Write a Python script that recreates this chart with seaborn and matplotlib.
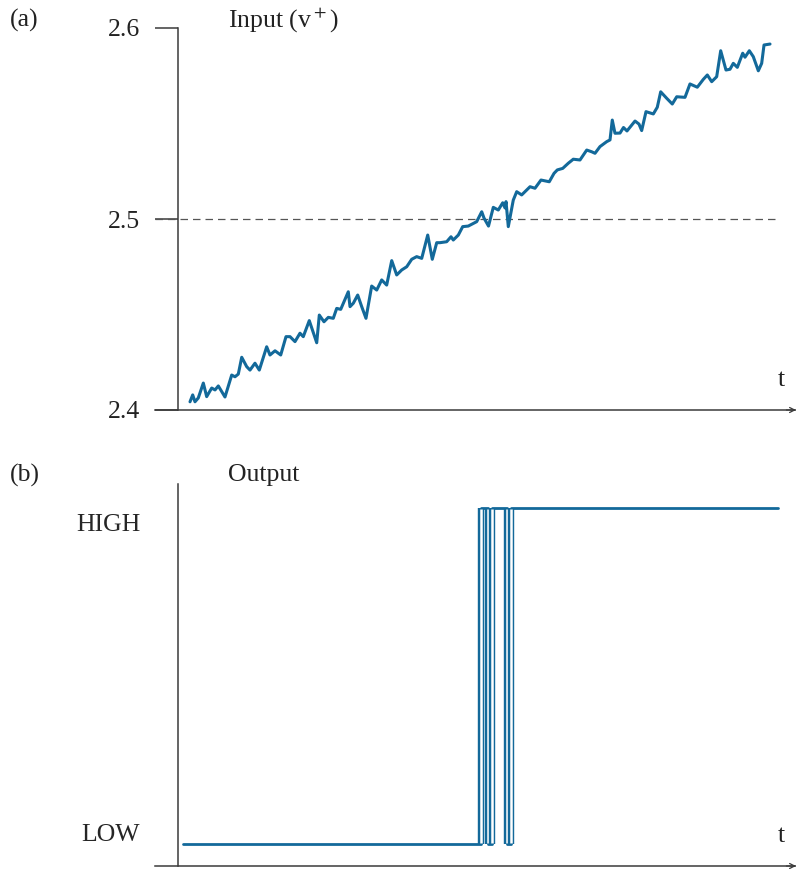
import matplotlib
matplotlib.use("Agg")
import matplotlib.pyplot as plt
import seaborn as sns

# Input signal v+
t_in = [2.0, 2.45, 2.83, 3.38, 4.22, 4.78, 5.62, 6.17, 6.72, 7.83, 8.95, 9.5, 10.05, 10.62,
        11.45, 12.0, 12.83, 13.55, 14.78, 15.33, 16.17, 17.12, 18.0, 18.67, 19.5, 20.33,
        20.88, 21.88, 23.12, 23.55, 24.33, 25.05, 25.88, 26.45, 27.12, 28.38, 28.67, 29.22,
        29.95, 30.62, 31.33, 32.28, 33.12, 33.95, 34.78, 35.62, 36.45, 37.28, 38.12, 38.95,
        39.78, 40.62, 41.62, 42.38, 43.12, 43.67, 44.78, 45.5, 45.88, 46.72, 47.45, 48.38,
        49.78, 50.62, 51.0, 51.75, 52.55, 53.38, 54.12, 54.5, 54.67, 55.05, 55.88, 56.45,
        57.28, 58.67, 59.5, 60.5, 61.88, 62.67, 63.22, 64.12, 65.05, 65.88, 67.0, 68.12,
        68.95, 69.5, 70.33, 71.45, 72.0, 72.38, 72.83, 73.67, 74.25, 74.83, 76.17, 76.83,
        77.28, 78.0, 79.22, 79.88, 80.45, 81.45, 82.38, 83.12, 84.5, 85.33, 86.55, 87.55,
        88.22, 88.95, 89.78, 90.45, 91.33, 92.0, 92.55, 93.22, 94.12, 94.5, 95.22, 95.88,
        96.72, 97.28, 97.67, 98.67]
v_in = [2.4043, 2.4079, 2.4043, 2.4063, 2.4141, 2.4070, 2.4115, 2.4105, 2.4126, 2.4068,
        2.4183, 2.4174, 2.4188, 2.4276, 2.4227, 2.4209, 2.4245, 2.4209, 2.4331, 2.4288,
        2.4310, 2.4288, 2.4384, 2.4384, 2.4358, 2.4402, 2.4384, 2.4468, 2.4352, 2.4497,
        2.4462, 2.4485, 2.4480, 2.4532, 2.4527, 2.4619, 2.4541, 2.4559, 2.4602, 2.4541,
        2.4480, 2.4649, 2.4628, 2.4681, 2.4654, 2.4782, 2.4707, 2.4733, 2.4750, 2.4789,
        2.4803, 2.4794, 2.4916, 2.4789, 2.4876, 2.4876, 2.4881, 2.4907, 2.4890, 2.4916,
        2.4960, 2.4963, 2.4986, 2.5038, 2.5005, 2.4963, 2.5061, 2.5047, 2.5085, 2.5058,
        2.5091, 2.4960, 2.5099, 2.5143, 2.5126, 2.5169, 2.5161, 2.5204, 2.5195, 2.5239,
        2.5257, 2.5265, 2.5292, 2.5313, 2.5309, 2.5361, 2.5352, 2.5344, 2.5379, 2.5405,
        2.5414, 2.5518, 2.5449, 2.5450, 2.5479, 2.5461, 2.5513, 2.5497, 2.5463, 2.5562,
        2.5550, 2.5585, 2.5666, 2.5632, 2.5602, 2.5640, 2.5637, 2.5707, 2.5690, 2.5731,
        2.5754, 2.5719, 2.5745, 2.5881, 2.5780, 2.5784, 2.5815, 2.5794, 2.5868, 2.5847,
        2.5881, 2.5850, 2.5776, 2.5815, 2.5911, 2.5916]

threshold = 2.5
yticks_in = [2.4, 2.5, 2.6]
ytick_labels = ["2.4", "2.5", "2.6"]

# Comparator output (0 = LOW, 1 = HIGH), switching times
t_out = [0.8, 50.5, 51.6, 52.4, 54.85, 55.55, 100.0]
level_out = [0, 1, 0, 1, 0, 1, 1]

blue = "#13699a"
axis_col = "#3a3a3a"

sns.set_theme(style="white")
plt.rcParams["font.family"] = ["Liberation Serif", "DejaVu Serif"]
plt.rcParams["mathtext.fontset"] = "stix"

fig = plt.figure(figsize=(7.96, 8.69), dpi=100)
x_lo, x_hi = -23 / 6, 618 / 6
fs = 18.5

# ---- panel (a)
ax1 = fig.add_axes([155 / 796, 1 - 410 / 869, 641 / 796, 382 / 869])
ax1.axhline(threshold, xmin=0, xmax=(780 - 155) / 641, color="#555555", lw=0.9,
            ls=(0, (6, 4)))
sns.lineplot(x=t_in, y=v_in, ax=ax1, color=blue, lw=2.2, estimator=None, sort=False)
ax1.set_xlim(x_lo, x_hi)
ax1.set_ylim(2.4, 2.6)
ax1.set_yticks(yticks_in)
ax1.set_yticklabels(ytick_labels)
ax1.set_xticks([])

# ---- panel (b)
ax2 = fig.add_axes([155 / 796, 1 - 866 / 869, 641 / 796, 382 / 869])
sns.lineplot(x=t_out, y=level_out, ax=ax2, color=blue, lw=2.0, estimator=None,
             sort=False, drawstyle="steps-post")
for tt in t_out[1:-1]:
    ax2.vlines(tt, 0, 1, color=blue, lw=4.6)
    ax2.vlines(tt, 0.004, 0.996, color="white", lw=1.8)
ax2.set_xlim(x_lo, x_hi)
ax2.set_ylim(-22 / 336, 1 + 24 / 336)
ax2.set_xticks([])
ax2.set_yticks([])
ax2.text(-6.3, 1 - 17 / 336, "HIGH", ha="right", va="center", fontsize=fs)
ax2.text(-6.3, 9 / 336, "LOW", ha="right", va="center", fontsize=fs)

for ax in (ax1, ax2):
    ax.set_xlabel("")
    ax.set_ylabel("")
    ax.set_facecolor("none")
    ax.spines["top"].set_visible(False)
    ax.spines["right"].set_visible(False)
    ax.spines["left"].set_position(("data", 0))
    for s in ("left", "bottom"):
        ax.spines[s].set_color(axis_col)
        ax.spines[s].set_linewidth(1.1)
    ax.tick_params(axis="y", direction="out", length=16.5, width=1.1, color=axis_col,
                   pad=11, left=True, labelsize=fs, labelcolor="#222222")
    ax.annotate("", xy=(1.0, 0), xytext=(0.985, 0), xycoords="axes fraction",
                arrowprops=dict(arrowstyle="->", lw=0.9, color=axis_col,
                                shrinkA=0, shrinkB=0, mutation_scale=9))

fig.text(10 / 796, 1 - 20 / 869, "(a)", fontsize=fs, va="center", color="#222222")
fig.text(10 / 796, 1 - 475 / 869, "(b)", fontsize=fs, va="center", color="#222222")
fig.text(228 / 796, 1 - 20 / 869, r"Input (v$^+$)", fontsize=fs, va="center",
         color="#222222")
fig.text(228 / 796, 1 - 475 / 869, "Output", fontsize=fs, va="center", color="#222222")
fig.text(781 / 796, 1 - 380 / 869, "t", fontsize=fs, va="center", ha="center",
         color="#222222")
fig.text(781 / 796, 1 - 836 / 869, "t", fontsize=fs, va="center", ha="center",
         color="#222222")

fig.savefig("out.png", dpi=100)
